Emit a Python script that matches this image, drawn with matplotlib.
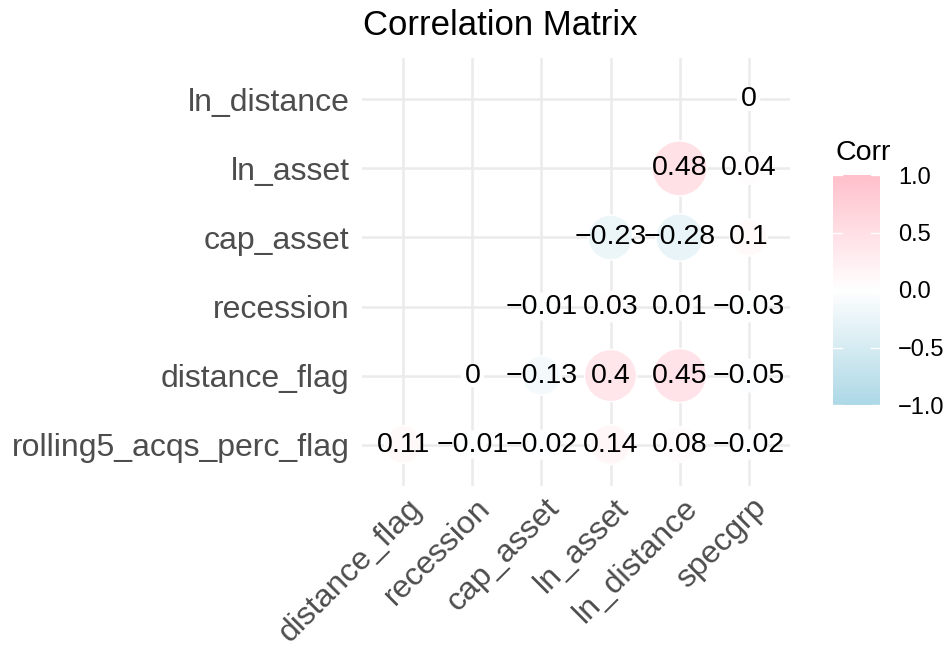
import numpy as np
import matplotlib
matplotlib.use('Agg')
import matplotlib.pyplot as plt
import matplotlib.transforms as mtransforms
from matplotlib.colors import LinearSegmentedColormap

plt.rcParams['font.family'] = ['Liberation Sans', 'DejaVu Sans']

# columns (x) and rows (y, bottom to top)
x_vars = ['distance_flag', 'recession', 'cap_asset', 'ln_asset', 'ln_distance', 'specgrp']
y_vars = ['rolling5_acqs_perc_flag', 'distance_flag', 'recession', 'cap_asset', 'ln_asset', 'ln_distance']

# lower triangle values, row by row (row name, column name, value)
rows = ['rolling5_acqs_perc_flag'] * 6 + ['distance_flag'] * 5 + ['recession'] * 4 + \
       ['cap_asset'] * 3 + ['ln_asset'] * 2 + ['ln_distance']
cols = x_vars + x_vars[1:] + x_vars[2:] + x_vars[3:] + x_vars[4:] + x_vars[5:]
corr = [0.11, -0.01, -0.02, 0.14, 0.08, -0.02,
        0, -0.13, 0.4, 0.45, -0.05,
        -0.01, 0.03, 0.01, -0.03,
        -0.23, -0.28, 0.1,
        0.48, 0.04,
        0]

cmap = LinearSegmentedColormap.from_list('corr', ['#ADD8E6', '#FFFFFF', '#FFC0CB'])

W, H = 946, 647
fig = plt.figure(figsize=(W / 100, H / 100), dpi=100)
ax = fig.add_axes([362 / W, 1 - 486 / H, 428 / W, 428 / H])

xi = np.array([x_vars.index(c) for c in cols])
yi = np.array([y_vars.index(r) for r in rows])
vals = np.array(corr)
a = np.abs(vals)

# ggplot scale_size(range=c(4,10)) on area
size = 4 + 6 * np.sqrt((a - a.min()) / (a.max() - a.min()))
diam_pt = size * 5.5 * 0.72
ax.scatter(xi, yi, s=diam_pt ** 2, c=vals, cmap=cmap, vmin=-1, vmax=1,
           edgecolors='white', linewidths=1, zorder=3)

for x, y, v in zip(xi, yi, vals):
    lab = ('%g' % v).replace('-', '\u2212')
    ax.text(x, y, lab, ha='center', va='center', fontsize=20.5, color='black', zorder=4)

ax.set_xlim(-0.6, 5.6)
ax.set_ylim(-0.6, 5.6)
ax.set_xticks(range(6))
ax.set_yticks(range(6))
ax.set_xticklabels(x_vars, rotation=45, ha='right', va='top', rotation_mode='anchor',
                   fontsize=23, color='#4D4D4D')
ax.set_yticklabels(y_vars, fontsize=23, color='#4D4D4D')
ax.tick_params(axis='y', length=0, pad=9)
ax.tick_params(axis='x', length=0, pad=5)
offset = mtransforms.ScaledTranslation(3 / 100, 0, fig.dpi_scale_trans)
for t in ax.get_xticklabels():
    t.set_transform(t.get_transform() + offset)
ax.grid(True, color='#EBEBEB', linewidth=1.8, zorder=0)
ax.set_axisbelow(True)
for s in ax.spines.values():
    s.set_visible(False)

fig.text(363 / W, 1 - 35 / H, 'Correlation Matrix', fontsize=25, ha='left', va='baseline')

# colour bar legend
cax = fig.add_axes([833 / W, 1 - 405 / H, 47 / W, 230 / H])
grad = np.linspace(-1, 1, 256).reshape(-1, 1)
cax.imshow(grad, aspect='auto', cmap=cmap, origin='lower', extent=[0, 1, -1, 1])
cax.set_xlim(0, 1)
cax.set_ylim(-1, 1)
cax.set_xticks([])
ticks = [-1.0, -0.5, 0.0, 0.5, 1.0]
cax.set_yticks(ticks)
cax.set_yticklabels([('%.1f' % t).replace('-', '\u2212') for t in ticks], fontsize=17)
cax.yaxis.tick_right()
cax.tick_params(axis='y', length=0, pad=13)
for t in ticks:
    cax.plot([0, 0.2], [t, t], color='white', lw=1)
    cax.plot([0.8, 1], [t, t], color='white', lw=1)
for s in cax.spines.values():
    s.set_visible(False)
fig.text(835 / W, 1 - 160 / H, 'Corr', fontsize=20.5, ha='left', va='baseline')

fig.savefig('out.png', dpi=100)
